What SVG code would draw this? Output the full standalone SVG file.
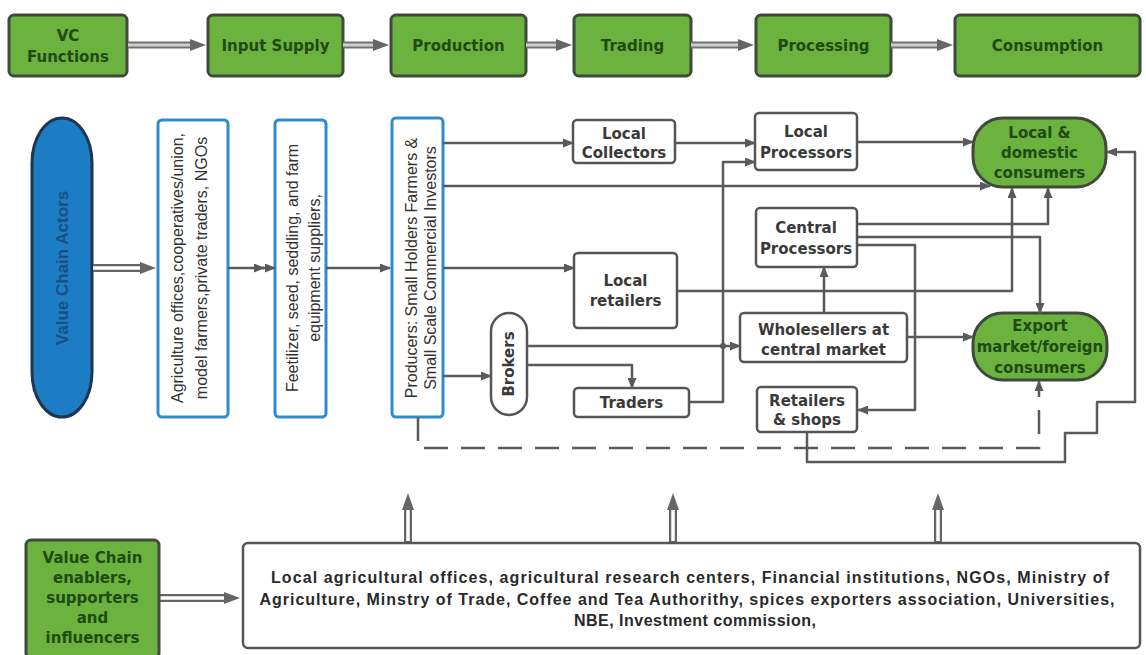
<svg xmlns="http://www.w3.org/2000/svg" width="1146" height="655" viewBox="0 0 1146 655">
  <style>
    .fn { fill:#6bb23e; stroke:#404a3c; stroke-width:3; }
    .gt { font-family:"DejaVu Sans", sans-serif; font-weight:bold; font-size:15px; fill:#214a14; text-anchor:middle; }
    .wb { fill:#ffffff; stroke:#555555; stroke-width:2.5; }
    .bb { fill:#ffffff; stroke:#2f8ccc; stroke-width:3; }
    .lt { font-family:"DejaVu Sans", sans-serif; font-weight:bold; font-size:15px; fill:#3a3a3a; text-anchor:middle; }
    .vt { font-family:"Liberation Sans", Arial, sans-serif; font-size:16px; fill:#333333; text-anchor:middle; }
    .bt { font-family:"Liberation Sans", Arial, sans-serif; font-weight:bold; font-size:16px; fill:#2a2a2a; text-anchor:middle; }
    .cn { fill:none; stroke:#5a5a5a; stroke-width:2.5; stroke-linejoin:round; marker-end:url(#ah); }
    .dash { fill:none; stroke:#5a5a5a; stroke-width:2.5; stroke-dasharray:24 13; marker-end:url(#ah); }
    .hoOut { fill:none; stroke:#666666; stroke-width:8; }
    .hoIn { fill:none; stroke:#ffffff; stroke-width:3.5; }
    .grOut { fill:none; stroke:#707070; stroke-width:7; }
    .grIn { fill:none; stroke:#cfcfcf; stroke-width:3; }
    .head { fill:#666666; }
  </style>
  <defs>
    <marker id="ah" markerUnits="userSpaceOnUse" markerWidth="11" markerHeight="9" refX="10" refY="4.5" orient="auto">
      <path d="M0,0 L11,4.5 L0,9 Z" fill="#5a5a5a"/>
    </marker>
  </defs>

  <!-- value-chain function row -->
  <g id="fn-vc"><rect class="fn" x="9" y="15" width="118" height="61" rx="5"/>
    <text class="gt" x="68" y="41">VC</text><text class="gt" x="68" y="62">Functions</text></g>
  <g id="fn-input"><rect class="fn" x="208" y="15" width="135" height="61" rx="5"/>
    <text class="gt" x="275.5" y="51">Input Supply</text></g>
  <g id="fn-production"><rect class="fn" x="391" y="15" width="135" height="61" rx="5"/>
    <text class="gt" x="458.5" y="51">Production</text></g>
  <g id="fn-trading"><rect class="fn" x="574" y="15" width="117" height="61" rx="5"/>
    <text class="gt" x="632.5" y="51">Trading</text></g>
  <g id="fn-processing"><rect class="fn" x="756" y="15" width="135" height="61" rx="5"/>
    <text class="gt" x="823.5" y="51">Processing</text></g>
  <g id="fn-consumption"><rect class="fn" x="955" y="15" width="185" height="61" rx="5"/>
    <text class="gt" x="1047.5" y="51">Consumption</text></g>

  <!-- function row arrows -->
  <g id="fn-arrows">
    <path class="grOut" d="M128,45 H192 M343,45 H375 M526,45 H558 M691,45 H740 M891,45 H939"/>
    <path class="grIn" d="M128,45 H192 M343,45 H375 M526,45 H558 M691,45 H740 M891,45 H939"/>
    <polygon class="head" points="190,39 206,45 190,51"/>
    <polygon class="head" points="373,39 389,45 373,51"/>
    <polygon class="head" points="556,39 572,45 556,51"/>
    <polygon class="head" points="738,39 754,45 738,51"/>
    <polygon class="head" points="937,39 953,45 937,51"/>
  </g>

  <!-- actors -->
  <g id="actors">
    <rect x="32" y="118" width="60" height="299" rx="30" ry="45" fill="#1c7cc4" stroke="#1f3550" stroke-width="3"/>
    <text transform="translate(68,268) rotate(-90)" text-anchor="middle" font-family="Liberation Sans, Arial, sans-serif" font-weight="bold" font-size="17" fill="#1a4f85">Value Chain Actors</text>
  </g>
  <g id="input-org">
    <rect class="bb" x="158" y="120" width="70" height="297" rx="4"/>
    <text class="vt" transform="translate(183,268) rotate(-90)">Agriculture offices,cooperatives/union,</text>
    <text class="vt" transform="translate(207,268) rotate(-90)">model farmers,private traders, NGOs</text>
  </g>
  <g id="input-suppliers">
    <rect class="bb" x="275" y="120" width="51" height="297" rx="4"/>
    <text class="vt" transform="translate(298,268) rotate(-90)">Feetilizer, seed, seddling, and farm</text>
    <text class="vt" transform="translate(320,268) rotate(-90)">equipment suppliers,</text>
  </g>
  <g id="producers">
    <rect class="bb" x="392" y="118" width="51" height="299" rx="4"/>
    <text class="vt" transform="translate(417,268) rotate(-90)">Producers: Small Holders Farmers &amp;</text>
    <text class="vt" transform="translate(436,268) rotate(-90)">Small Scale Commercial Investors</text>
  </g>
  <g id="local-collectors"><rect class="wb" x="573" y="120" width="102" height="43" rx="4"/>
    <text class="lt" x="624" y="139">Local</text><text class="lt" x="624" y="158">Collectors</text></g>
  <g id="local-processors"><rect class="wb" x="755" y="113" width="102" height="57" rx="4"/>
    <text class="lt" x="806" y="137" font-size="16">Local</text><text class="lt" x="806" y="158" font-size="16">Processors</text></g>
  <g id="central-processors"><rect class="wb" x="756" y="208" width="101" height="59" rx="4"/>
    <text class="lt" x="806" y="233" font-size="16">Central</text><text class="lt" x="806" y="254" font-size="16">Processors</text></g>
  <g id="local-retailers"><rect class="wb" x="574" y="253" width="103" height="75" rx="4"/>
    <text class="lt" x="625.5" y="286">Local</text><text class="lt" x="625.5" y="306">retailers</text></g>
  <g id="wholesellers"><rect class="wb" x="740" y="313" width="167" height="49" rx="4"/>
    <text class="lt" x="823.5" y="335">Wholesellers at</text><text class="lt" x="823.5" y="355">central market</text></g>
  <g id="brokers"><rect class="wb" x="491" y="313" width="36" height="102" rx="18"/>
    <text class="lt" font-size="14" transform="translate(514,364) rotate(-90)">Brokers</text></g>
  <g id="traders"><rect class="wb" x="574" y="388" width="115" height="29" rx="4"/>
    <text class="lt" x="631.5" y="408">Traders</text></g>
  <g id="retailers-shops"><rect class="wb" x="757" y="387" width="100" height="45" rx="4"/>
    <text class="lt" x="807" y="406" font-size="13">Retailers</text><text class="lt" x="807" y="425" font-size="13">&amp; shops</text></g>
  <g id="local-consumers"><rect class="fn" x="973" y="118" width="133" height="69" rx="30"/>
    <text class="gt" x="1039.5" y="138">Local &amp;</text><text class="gt" x="1039.5" y="158">domestic</text><text class="gt" x="1039.5" y="178">consumers</text></g>
  <g id="export-consumers"><rect class="fn" x="973" y="313" width="134" height="67" rx="30"/>
    <text class="gt" x="1040" y="331">Export</text><text class="gt" x="1040" y="352">market/foreign</text><text class="gt" x="1040" y="373">consumers</text></g>

  <!-- flows between actors -->
  <g id="connectors">
    <path class="hoOut" d="M93,268 H142"/><path class="hoIn" d="M93,268 H142"/>
    <polygon class="head" points="140,262 156,268 140,274"/>
    <path class="cn" d="M228,268 H264"/>
    <path class="cn" d="M262,268 H275"/>
    <path class="cn" d="M326,268 H390"/>
    <path class="cn" d="M443,143 H573"/>
    <path class="cn" d="M443,186 H990"/>
    <path class="cn" d="M443,268 H574"/>
    <path class="cn" d="M443,376 H491"/>
    <path class="dash" d="M418,417 V448 H1039 V381"/>
    <path class="cn" d="M675,143 H755"/>
    <path class="cn" d="M857,142 H973"/>
    <path class="cn" d="M689,402 H723 V162 H755"/>
    <path class="cn" d="M527,346 H740"/>
    <circle cx="723" cy="346" r="3" fill="#5a5a5a"/>
    <path class="cn" d="M527,365 H632 V388"/>
    <path class="cn" d="M677,291 H1012 V188"/>
    <path class="cn" d="M857,224 H1048 V188"/>
    <path class="cn" d="M857,237 H1040 V313"/>
    <path class="cn" d="M857,245 H915 V410 H858"/>
    <path class="cn" d="M824,313 V267"/>
    <path class="cn" d="M907,337 H973"/>
    <path class="cn" d="M807,432 V462 H1065 V433 H1097 V402 H1135 V152 H1107"/>
    <!-- support arrows -->
    <path class="hoOut" d="M408,543 V508 M673,543 V508 M938,543 V508"/>
    <path class="hoIn" d="M408,541 V508 M673,541 V508 M938,541 V508"/>
    <polygon class="head" points="402,510 408,493 414,510"/>
    <polygon class="head" points="667,510 673,493 679,510"/>
    <polygon class="head" points="932,510 938,493 944,510"/>
    <path class="hoOut" d="M160,598 H226"/><path class="hoIn" d="M160,598 H226"/>
    <polygon class="head" points="224,592 240,598 224,604"/>
  </g>

  <!-- enablers -->
  <g id="enablers"><rect class="fn" x="26" y="540" width="133" height="118" rx="5"/>
    <text class="gt" x="92.5" y="563">Value Chain</text><text class="gt" x="92.5" y="583">enablers,</text>
    <text class="gt" x="92.5" y="603">supporters</text><text class="gt" x="92.5" y="623">and</text>
    <text class="gt" x="92.5" y="643">influencers</text></g>
  <g id="support-list"><rect class="wb" x="243" y="543" width="897" height="105" rx="5"/>
    <text class="bt" x="690" y="583" textLength="838">Local agricultural offices, agricultural research centers, Financial institutions, NGOs, Ministry of</text>
    <text class="bt" x="687" y="605" textLength="855">Agriculture, Minstry of Trade, Coffee and Tea Authorithy, spices exporters association, Universities,</text>
    <text class="bt" x="695" y="626" textLength="242">NBE, Investment commission,</text></g>
</svg>
